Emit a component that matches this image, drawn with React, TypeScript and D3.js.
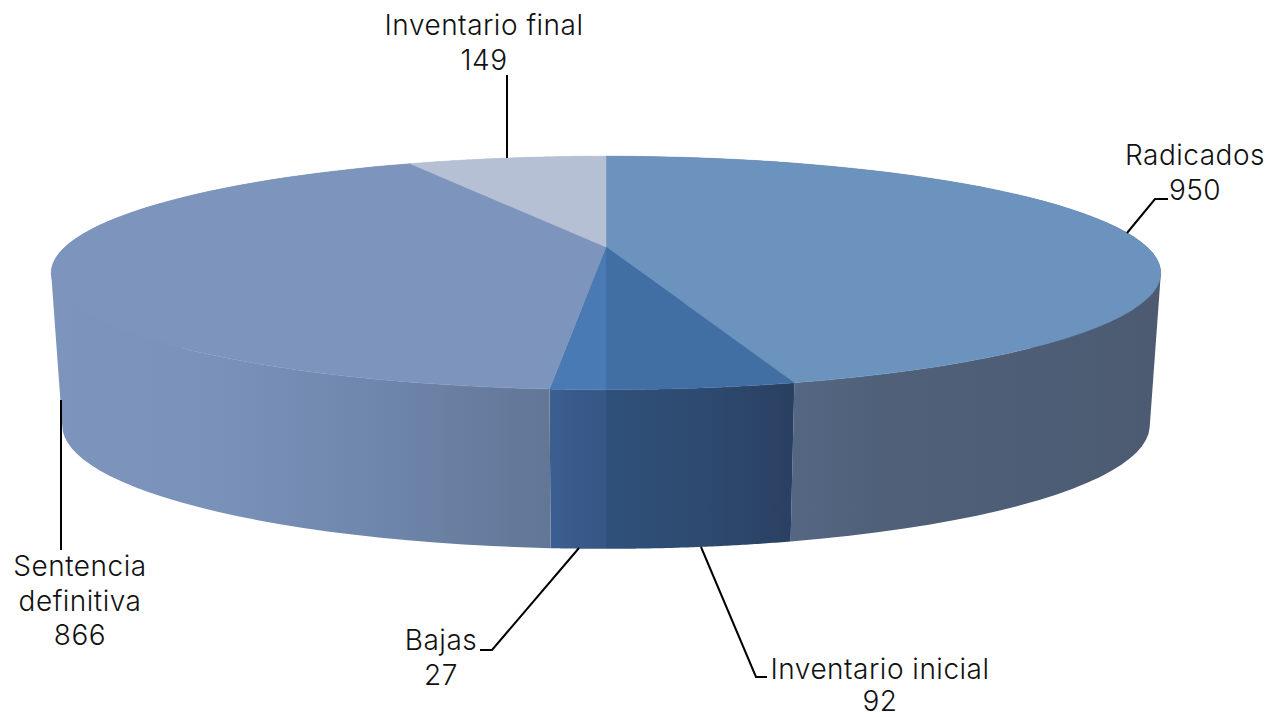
import * as d3 from 'd3';

const categories = ['Radicados', 'Inventario inicial', 'Bajas', 'Sentencia definitiva', 'Inventario final'];
const values = [950, 92, 27, 866, 149];
const topColors = ['#6C93BE', '#416FA3', '#4A7AB3', '#7D94BC', '#B5C0D4'];
// wall shading, left to right
const wallColors = [
  ['#5F7595', '#4F6079', '#4C5B72'],
  ['#2F5179', '#2E4A70', '#2A4062'],
  ['#3C5F92', '#39598A', '#365686'],
  ['#7D94BC', '#7A92BA', '#6E86AB', '#627696'],
  ['#B5C0D4', '#B5C0D4'],
];

const width = 1274;
const height = 717;
const cx = 606;
const cy = 247;
const radius = 541;
const squash = 111;
const persp = 0.222;

// labels and their leader lines
const labels = [
  { lines: ['Radicados', '950'], x: 1195, y: 165, gap: 34.5, leader: [[1127, 233], [1155, 199], [1168, 199]] },
  { lines: ['Inventario inicial', '92'], x: 880, y: 679, gap: 32, leader: [[701, 547], [756, 677], [767, 677]] },
  { lines: ['Bajas', '27'], x: 441, y: 650, gap: 34.5, leader: [[579, 548], [492, 650], [480, 650]] },
  { lines: ['Sentencia', 'definitiva', '866'], x: 80, y: 576, gap: 34.5, leader: [[61, 400], [61, 550]] },
  { lines: ['Inventario final', '149'], x: 484, y: 35, gap: 34.5, leader: [[507, 158], [507, 75]] },
];

type Pt = [number, number];

// tilted circle seen in perspective
function project(a: number): Pt {
  const u = Math.sin(a);
  const v = -Math.cos(a);
  const d = 1 - persp * v;
  return [cx + (radius * u) / d, cy + (squash * v) / d];
}

function projectBottom(a: number): Pt {
  const [x, y] = project(a);
  return [cx + 0.98 * (x - cx), cy + 151 + 1.057 * (y - cy)];
}

export default function App() {
  const pie = d3.pie<number>().sort(null).value((d) => d);
  const slices = pie(values);
  const line = d3.line();

  const arcAngles = (s: d3.PieArcDatum<number>) =>
    d3.range(0, 61).map((i) => s.startAngle + ((s.endAngle - s.startAngle) * i) / 60);

  const topPath = (s: d3.PieArcDatum<number>) =>
    line([[cx, cy], ...arcAngles(s).map(project)]) + 'Z';

  // one quad per step, all wound the same way so the fill stays solid where the wall folds
  const wallPath = (s: d3.PieArcDatum<number>) => {
    const angles = arcAngles(s);
    return d3
      .pairs(angles)
      .map(([a0, a1]) => {
        const quad: Pt[] = [project(a0), project(a1), projectBottom(a1), projectBottom(a0)];
        const ordered = d3.polygonArea(quad) < 0 ? quad.slice().reverse() : quad;
        return line(ordered) + 'Z';
      })
      .join('');
  };

  const wallRange = (s: d3.PieArcDatum<number>) => {
    const xs = arcAngles(s).map((a) => project(a)[0]);
    return [d3.min(xs) ?? 0, d3.max(xs) ?? 0];
  };

  return (
    <svg
      width={width}
      height={height}
      style={{ position: 'absolute', left: 0, top: 0, background: '#fff' }}
    >
      <defs>
        {slices.map((s, i) => {
          const [x0, x1] = wallRange(s);
          return (
            <linearGradient
              key={i}
              id={`wall-${i}`}
              gradientUnits="userSpaceOnUse"
              x1={x0}
              x2={x1}
              y1={0}
              y2={0}
            >
              {wallColors[i].map((c, j) => (
                <stop key={j} offset={j / (wallColors[i].length - 1)} stopColor={c} />
              ))}
            </linearGradient>
          );
        })}
      </defs>

      {slices.map((s, i) => (
        <path key={i} d={wallPath(s)} fill={`url(#wall-${i})`} />
      ))}
      {slices.map((s, i) => (
        <path key={i} d={topPath(s)} fill={topColors[i]} stroke={topColors[i]} strokeWidth={0.5} />
      ))}

      {labels.map((l, i) => (
        <g key={categories[i]}>
          <path d={line(l.leader as Pt[]) ?? ''} fill="none" stroke="#000" strokeWidth={2} />
          <text
            x={l.x}
            y={l.y}
            textAnchor="middle"
            fontFamily="Inter, Lato, sans-serif"
            fontWeight={300}
            fontSize={28}
            letterSpacing={0.5}
            fill="#111"
          >
            {l.lines.map((t, j) => (
              <tspan key={j} x={l.x} dy={j === 0 ? 0 : l.gap}>
                {t}
              </tspan>
            ))}
          </text>
        </g>
      ))}
    </svg>
  );
}
